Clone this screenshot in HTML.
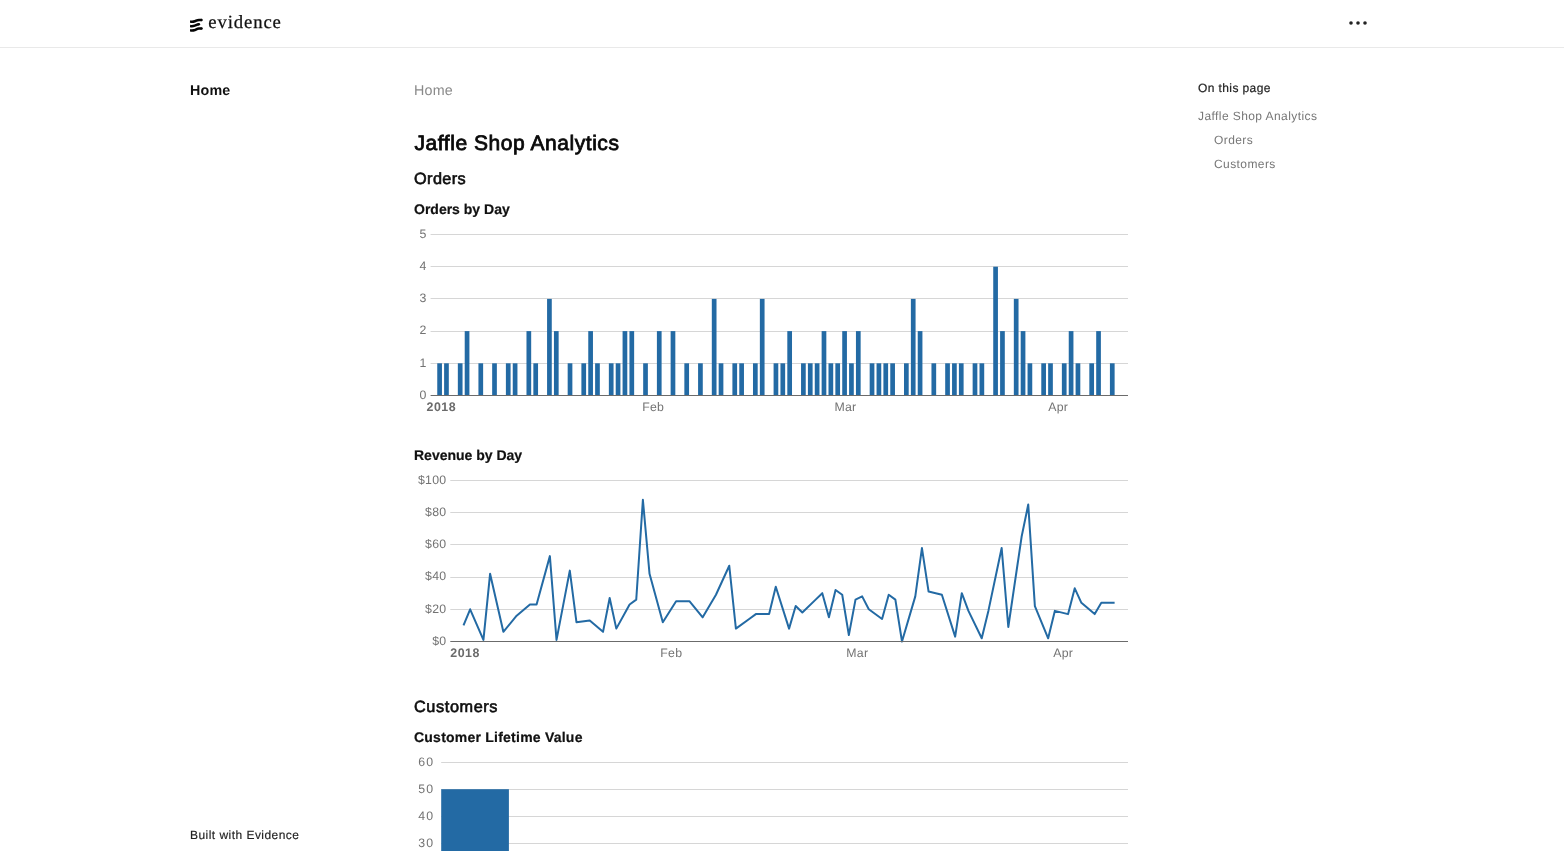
<!DOCTYPE html>
<html lang="en">
<head>
<meta charset="utf-8">
<title>Jaffle Shop Analytics</title>
<style>
*{box-sizing:border-box;margin:0;padding:0}
html,body{width:1564px;height:851px;overflow:hidden;background:#fff}
body{font-family:"Liberation Sans",sans-serif;color:#111;position:relative;-webkit-font-smoothing:antialiased;text-rendering:geometricPrecision}
header{position:absolute;left:0;top:0;width:1564px;height:48px;border-bottom:1px solid #e9e9e9;background:#fff}
.logo{position:absolute;left:190px;top:0;height:47px;display:flex;align-items:center;text-decoration:none;color:#111}
.logo svg{display:block}
.logo span{font-family:"Liberation Serif","DejaVu Serif",serif;font-size:18.7px;letter-spacing:.9px;margin-left:4.2px;position:relative;top:-1px;color:#111;-webkit-text-stroke:.25px #111}
.kebab{position:absolute;left:1349px;top:20px;width:18px;height:6px}
nav.side{position:absolute;left:190px;top:81px}
nav.side a{font-weight:700;font-size:14.3px;letter-spacing:.2px;color:#111;text-decoration:none;line-height:20px;display:block}
.crumb{position:absolute;left:414px;top:81px;font-size:14.3px;letter-spacing:.2px;line-height:20px;color:#8a8a8a}
h1{position:absolute;left:414.5px;top:130px;font-size:21px;letter-spacing:.55px;line-height:28px;font-weight:400;-webkit-text-stroke:.8px #0a0a0a;color:#0a0a0a;white-space:nowrap}
h2{position:absolute;left:414px;font-size:16.3px;line-height:24px;font-weight:400;-webkit-text-stroke:.6px #0a0a0a;color:#111;white-space:nowrap}
h2.o{top:167px;letter-spacing:.4px}
h2.c{top:695px;letter-spacing:.6px}
.ct{position:absolute;left:414px;font-size:14px;line-height:20px;font-weight:700;color:#111;white-space:nowrap;-webkit-text-stroke:.2px #111}
.chart{position:absolute;display:block;overflow:hidden}
.chart text{font-family:"Liberation Sans",sans-serif;font-size:12.3px;fill:#737373}
.chart .yl text{letter-spacing:.3px}
.chart .xl text{letter-spacing:.25px}
.chart text.b{font-weight:700;fill:#6b6b6b;font-size:12.4px;letter-spacing:.5px}
aside{position:absolute;left:1198px;top:78px;width:220px}
aside .h{font-size:12px;line-height:20px;color:#222;-webkit-text-stroke:.2px #222;letter-spacing:.4px}
aside a{display:block;font-size:12px;line-height:24px;color:#777;text-decoration:none;letter-spacing:.42px}
aside a.h1l{margin-top:6px}
aside a.sub{padding-left:16px}
footer{position:absolute;left:190px;top:826px;font-size:12px;line-height:18px;color:#222;letter-spacing:.46px;-webkit-text-stroke:.15px #222}
</style>
</head>
<body>
<header>
  <a class="logo">
    <svg width="14" height="16" viewBox="190 17 14 16" aria-hidden="true" style="position:relative;top:1px">
      <g fill="none" stroke="#050505" stroke-width="2.5" stroke-linecap="butt" stroke-linejoin="round">
        <path d="M190 21.5 C191.5 21.9 193.4 21.8 194.8 21.3 C196.6 20.6 197 19.9 199 19.9 L201.6 19.9"/>
        <path d="M190 25.9 C191.5 26.3 193.4 26.1 194.8 25.6 C196.4 25 197.2 24.3 198.9 24.3"/>
        <path d="M190 30.2 C191.5 30.6 193.4 30.5 194.8 30 C196.6 29.3 197 28.5 199 28.5 L201.6 28.5"/>
      </g>
      <g fill="#050505"><circle cx="201.5" cy="19.9" r="1.25"/><circle cx="198.9" cy="24.3" r="1.25"/><circle cx="201.5" cy="28.5" r="1.25"/></g>
    </svg>
    <span>evidence</span>
  </a>
  <svg class="kebab" viewBox="0 0 18 6" aria-label="Menu"><circle cx="2" cy="3" r="1.8" fill="#222"/><circle cx="9" cy="3" r="1.8" fill="#222"/><circle cx="16" cy="3" r="1.8" fill="#222"/></svg>
</header>

<nav class="side"><a>Home</a></nav>

<main>
  <div class="crumb">Home</div>
  <h1>Jaffle Shop Analytics</h1>
  <h2 class="o">Orders</h2>
  <div class="ct" style="top:199px">Orders by Day</div>
<svg class="chart" style="left:414px;top:222px" width="714" height="200" viewBox="414 222 714 200" role="img" aria-label="Orders by Day">
<g stroke="#d6d6d6" stroke-width="1">
<line x1="430.6" x2="1128.4" y1="363.5" y2="363.5"/>
<line x1="430.6" x2="1128.4" y1="331.5" y2="331.5"/>
<line x1="430.6" x2="1128.4" y1="298.5" y2="298.5"/>
<line x1="430.6" x2="1128.4" y1="266.5" y2="266.5"/>
<line x1="430.6" x2="1128.4" y1="234.5" y2="234.5"/>
</g>
<g fill="#236aa4">
<rect x="437.25" y="363.3" width="4.7" height="32.2"/>
<rect x="444.11" y="363.3" width="4.7" height="32.2"/>
<rect x="457.84" y="363.3" width="4.7" height="32.2"/>
<rect x="464.71" y="331.1" width="4.7" height="64.4"/>
<rect x="478.43" y="363.3" width="4.7" height="32.2"/>
<rect x="492.16" y="363.3" width="4.7" height="32.2"/>
<rect x="505.89" y="363.3" width="4.7" height="32.2"/>
<rect x="512.75" y="363.3" width="4.7" height="32.2"/>
<rect x="526.48" y="331.1" width="4.7" height="64.4"/>
<rect x="533.35" y="363.3" width="4.7" height="32.2"/>
<rect x="547.07" y="298.9" width="4.7" height="96.6"/>
<rect x="553.94" y="331.1" width="4.7" height="64.4"/>
<rect x="567.67" y="363.3" width="4.7" height="32.2"/>
<rect x="581.39" y="363.3" width="4.7" height="32.2"/>
<rect x="588.26" y="331.1" width="4.7" height="64.4"/>
<rect x="595.12" y="363.3" width="4.7" height="32.2"/>
<rect x="608.85" y="363.3" width="4.7" height="32.2"/>
<rect x="615.71" y="363.3" width="4.7" height="32.2"/>
<rect x="622.58" y="331.1" width="4.7" height="64.4"/>
<rect x="629.44" y="331.1" width="4.7" height="64.4"/>
<rect x="643.17" y="363.3" width="4.7" height="32.2"/>
<rect x="656.9" y="331.1" width="4.7" height="64.4"/>
<rect x="670.63" y="331.1" width="4.7" height="64.4"/>
<rect x="684.35" y="363.3" width="4.7" height="32.2"/>
<rect x="698.08" y="363.3" width="4.7" height="32.2"/>
<rect x="711.81" y="298.9" width="4.7" height="96.6"/>
<rect x="718.67" y="363.3" width="4.7" height="32.2"/>
<rect x="732.4" y="363.3" width="4.7" height="32.2"/>
<rect x="739.27" y="363.3" width="4.7" height="32.2"/>
<rect x="752.99" y="363.3" width="4.7" height="32.2"/>
<rect x="759.86" y="298.9" width="4.7" height="96.6"/>
<rect x="773.59" y="363.3" width="4.7" height="32.2"/>
<rect x="780.45" y="363.3" width="4.7" height="32.2"/>
<rect x="787.31" y="331.1" width="4.7" height="64.4"/>
<rect x="801.04" y="363.3" width="4.7" height="32.2"/>
<rect x="807.91" y="363.3" width="4.7" height="32.2"/>
<rect x="814.77" y="363.3" width="4.7" height="32.2"/>
<rect x="821.63" y="331.1" width="4.7" height="64.4"/>
<rect x="828.5" y="363.3" width="4.7" height="32.2"/>
<rect x="835.36" y="363.3" width="4.7" height="32.2"/>
<rect x="842.23" y="331.1" width="4.7" height="64.4"/>
<rect x="849.09" y="363.3" width="4.7" height="32.2"/>
<rect x="855.95" y="331.1" width="4.7" height="64.4"/>
<rect x="869.68" y="363.3" width="4.7" height="32.2"/>
<rect x="876.55" y="363.3" width="4.7" height="32.2"/>
<rect x="883.41" y="363.3" width="4.7" height="32.2"/>
<rect x="890.27" y="363.3" width="4.7" height="32.2"/>
<rect x="904" y="363.3" width="4.7" height="32.2"/>
<rect x="910.87" y="298.9" width="4.7" height="96.6"/>
<rect x="917.73" y="331.1" width="4.7" height="64.4"/>
<rect x="931.46" y="363.3" width="4.7" height="32.2"/>
<rect x="945.19" y="363.3" width="4.7" height="32.2"/>
<rect x="952.05" y="363.3" width="4.7" height="32.2"/>
<rect x="958.91" y="363.3" width="4.7" height="32.2"/>
<rect x="972.64" y="363.3" width="4.7" height="32.2"/>
<rect x="979.51" y="363.3" width="4.7" height="32.2"/>
<rect x="993.23" y="266.7" width="4.7" height="128.8"/>
<rect x="1000.1" y="331.1" width="4.7" height="64.4"/>
<rect x="1013.83" y="298.9" width="4.7" height="96.6"/>
<rect x="1020.69" y="331.1" width="4.7" height="64.4"/>
<rect x="1027.55" y="363.3" width="4.7" height="32.2"/>
<rect x="1041.28" y="363.3" width="4.7" height="32.2"/>
<rect x="1048.15" y="363.3" width="4.7" height="32.2"/>
<rect x="1061.87" y="363.3" width="4.7" height="32.2"/>
<rect x="1068.74" y="331.1" width="4.7" height="64.4"/>
<rect x="1075.6" y="363.3" width="4.7" height="32.2"/>
<rect x="1089.33" y="363.3" width="4.7" height="32.2"/>
<rect x="1096.19" y="331.1" width="4.7" height="64.4"/>
<rect x="1109.92" y="363.3" width="4.7" height="32.2"/>
</g>
<line x1="430.6" x2="1128.4" y1="395.5" y2="395.5" stroke="#6b6b6b" stroke-width="1"/>
<g class="yl" text-anchor="end">
<text x="426.6" y="398.8">0</text>
<text x="426.6" y="366.6">1</text>
<text x="426.6" y="334.4">2</text>
<text x="426.6" y="302.2">3</text>
<text x="426.6" y="270">4</text>
<text x="426.6" y="237.8">5</text>
</g>
<g class="xl" text-anchor="middle">
<text x="441.3" y="411" class="b">2018</text>
<text x="653.18" y="411">Feb</text>
<text x="845.38" y="411">Mar</text>
<text x="1058.16" y="411">Apr</text>
</g></svg>
  <div class="ct" style="top:445px">Revenue by Day</div>
<svg class="chart" style="left:414px;top:468px" width="714" height="200" viewBox="414 468 714 200" role="img" aria-label="Revenue by Day">
<g stroke="#d6d6d6" stroke-width="1">
<line x1="450.3" x2="1128.4" y1="609.5" y2="609.5"/>
<line x1="450.3" x2="1128.4" y1="577.5" y2="577.5"/>
<line x1="450.3" x2="1128.4" y1="544.5" y2="544.5"/>
<line x1="450.3" x2="1128.4" y1="512.5" y2="512.5"/>
<line x1="450.3" x2="1128.4" y1="480.5" y2="480.5"/>
</g>
<polyline points="463.5,625.39 470.14,609.28 483.43,639.89 490.08,573.84 503.36,631.83 516.65,615.72 529.94,604.45 536.58,604.45 549.87,556.12 556.52,639.89 569.8,570.62 576.45,622.17 589.74,620.56 603.02,631.83 609.67,598 616.31,628.61 629.6,604.45 636.24,599.61 642.89,499.73 649.53,573.84 662.82,622.17 676.11,601.23 689.4,601.23 702.68,617.34 715.97,594.78 729.26,565.78 735.9,628.61 749.19,618.95 755.84,614.11 769.12,614.11 775.77,586.73 789.06,628.61 795.7,606.06 802.34,612.5 815.63,599.61 822.28,593.17 828.92,617.34 835.56,589.95 842.21,594.78 848.85,635.06 855.5,599.61 862.14,596.39 868.78,609.28 882.07,618.95 888.72,594.78 895.36,599.61 902,641.5 915.29,596.39 921.94,548.06 928.58,591.56 941.87,594.78 955.16,636.67 961.8,593.17 968.44,610.89 981.73,638.28 988.38,610.89 1001.66,548.06 1008.31,627 1021.6,536.78 1028.24,504.56 1034.88,606.06 1048.17,638.28 1054.82,610.89 1068.1,614.11 1074.75,588.34 1081.39,602.84 1094.68,614.11 1101.32,602.84 1114.61,602.84" fill="none" stroke="#236aa4" stroke-width="2" stroke-linejoin="round"/>
<line x1="450.3" x2="1128.4" y1="641.5" y2="641.5" stroke="#6b6b6b" stroke-width="1"/>
<g class="yl" text-anchor="end">
<text x="446.5" y="644.8">$0</text>
<text x="446.5" y="612.58">$20</text>
<text x="446.5" y="580.36">$40</text>
<text x="446.5" y="548.14">$60</text>
<text x="446.5" y="515.92">$80</text>
<text x="446.5" y="483.7">$100</text>
</g>
<g class="xl" text-anchor="middle">
<text x="465.1" y="657" class="b">2018</text>
<text x="671.26" y="657">Feb</text>
<text x="857.3" y="657">Mar</text>
<text x="1063.26" y="657">Apr</text>
</g></svg>
  <h2 class="c">Customers</h2>
  <div class="ct" style="top:727px;letter-spacing:.23px">Customer Lifetime Value</div>
<svg class="chart" style="left:414px;top:750px" width="714" height="101" viewBox="414 750 714 101" role="img" aria-label="Customer Lifetime Value">
<g stroke="#d6d6d6" stroke-width="1">
<line x1="441.2" x2="1128.4" y1="762.5" y2="762.5"/>
<line x1="441.2" x2="1128.4" y1="789.5" y2="789.5"/>
<line x1="441.2" x2="1128.4" y1="816.5" y2="816.5"/>
<line x1="441.2" x2="1128.4" y1="843.5" y2="843.5"/>
</g>
<rect x="441.2" y="789.2" width="67.7" height="80" fill="#236aa4"/>
<g class="yl" text-anchor="end">
<text x="434.1" y="765.8" style="letter-spacing:1.1px">60</text>
<text x="434.1" y="792.7" style="letter-spacing:1.1px">50</text>
<text x="434.1" y="819.6" style="letter-spacing:1.1px">40</text>
<text x="434.1" y="846.5" style="letter-spacing:1.1px">30</text>
</g></svg>
</main>

<aside>
  <div class="h">On this page</div>
  <a class="h1l">Jaffle Shop Analytics</a>
  <a class="sub">Orders</a>
  <a class="sub">Customers</a>
</aside>

<footer>Built with Evidence</footer>
</body>
</html>
